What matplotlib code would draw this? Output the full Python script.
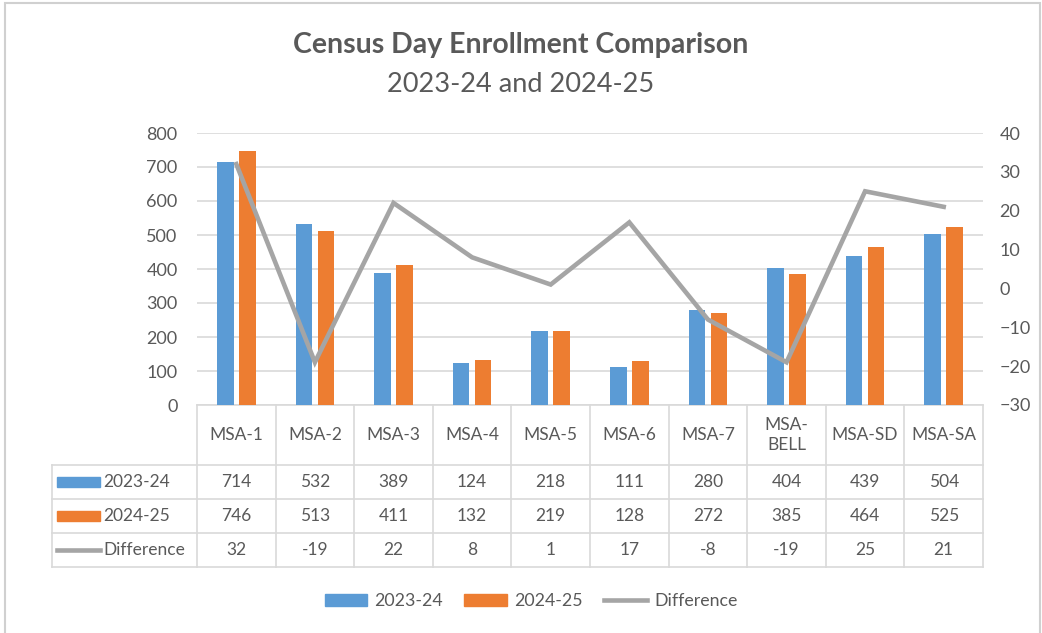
import matplotlib.pyplot as plt
import matplotlib.transforms as mtransforms
from matplotlib.patches import Rectangle
from matplotlib.lines import Line2D
import numpy as np

plt.rcParams['font.family'] = ['Lato', 'DejaVu Sans']

sites = ['MSA-1', 'MSA-2', 'MSA-3', 'MSA-4', 'MSA-5', 'MSA-6', 'MSA-7', 'MSA-\nBELL', 'MSA-SD', 'MSA-SA']
enr_2324 = [714, 532, 389, 124, 218, 111, 280, 404, 439, 504]
enr_2425 = [746, 513, 411, 132, 219, 128, 272, 385, 464, 525]
difference = [32, -19, 22, 8, 1, 17, -8, -19, 25, 21]

blue = '#5B9BD5'
orange = '#ED7D31'
grey = '#A5A5A5'
txt = '#595959'
grid = '#D9D9D9'

W, H = 1042, 633
fig = plt.figure(figsize=(W / 100, H / 100), dpi=100)

def fy(py):
    return 1 - py / H

def fx(px):
    return px / W

# outer chart border
fig.patches.append(Rectangle((fx(5), fy(640)), fx(1040) - fx(5), fy(3) - fy(640),
                             transform=fig.transFigure, fill=False, ec='#D0D0D0', lw=1.5))

ax = fig.add_axes([fx(197), fy(405), fx(983) - fx(197), fy(133) - fy(405)])
x = np.arange(len(sites))
ax.bar(x - 0.14, enr_2324, width=0.21, color=blue, zorder=3)
ax.bar(x + 0.14, enr_2425, width=0.21, color=orange, zorder=3)
ax.set_xlim(-0.5, len(sites) - 0.5)
ax.set_ylim(0, 800)
ax.set_yticks(range(0, 801, 100))
ax.yaxis.grid(True, color=grid, lw=1.2, zorder=0)
for s in ['top', 'right', 'left']:
    ax.spines[s].set_visible(False)
ax.spines['bottom'].set_color(grid)
ax.spines['bottom'].set_linewidth(1.2)
ax.set_xticks([])
ax.tick_params(axis='y', length=0, labelsize=13, labelcolor=txt, pad=14)

ax2 = ax.twinx()
ax2.plot(x, difference, color=grey, lw=3.3, zorder=4, solid_joinstyle='miter')
ax2.set_ylim(-30, 40)
ax2.set_yticks(range(-30, 41, 10))
for s in ax2.spines.values():
    s.set_visible(False)
ax2.tick_params(axis='y', length=0, labelsize=13, labelcolor=txt, pad=12)

# titles
fig.text(0.5, fy(45), 'Census Day Enrollment Comparison', ha='center', va='center',
         fontsize=20.5, fontweight='bold', color=txt)
fig.text(0.5, fy(85), '2023-24 and 2024-25', ha='center', va='center',
         fontsize=19.5, color=txt)

# data table
tr = mtransforms.blended_transform_factory(ax.transData, fig.transFigure)
row_edges = [405, 465, 499, 533, 567]
left_px = 52
lc = '#D9D9D9'
for i in range(len(sites) + 1):
    fig.add_artist(Line2D([i - 0.5, i - 0.5], [fy(405), fy(567)], transform=tr, color=lc, lw=1.2))
fig.add_artist(Line2D([fx(left_px), fx(left_px)], [fy(465), fy(567)], transform=fig.transFigure, color=lc, lw=1.2))
for ry in row_edges[1:]:
    fig.add_artist(Line2D([fx(left_px), fx(983)], [fy(ry), fy(ry)], transform=fig.transFigure, color=lc, lw=1.2))

for i, s in enumerate(sites):
    fig.text(i, fy(435), s, transform=tr, ha='center', va='center', fontsize=12.5, color=txt,
             linespacing=1.3)
rows = [enr_2324, enr_2425, difference]
for r, vals in enumerate(rows):
    yc = fy((row_edges[r + 1] + row_edges[r + 2]) / 2)
    for i, v in enumerate(vals):
        fig.text(i, yc, str(v), transform=tr, ha='center', va='center', fontsize=12.5, color=txt)

labels = ['2023-24', '2024-25', 'Difference']
for r, lab in enumerate(labels):
    ycp = (row_edges[r + 1] + row_edges[r + 2]) / 2
    if r < 2:
        col = blue if r == 0 else orange
        fig.patches.append(Rectangle((fx(57), fy(ycp + 5)), fx(100) - fx(57), fy(ycp - 5) - fy(ycp + 5),
                                     transform=fig.transFigure, color=col))
    else:
        fig.add_artist(Line2D([fx(57), fx(100)], [fy(ycp), fy(ycp)], transform=fig.transFigure,
                              color=grey, lw=3.3))
    fig.text(fx(103), fy(ycp), lab, ha='left', va='center', fontsize=12.5, color=txt)

# legend
handles = [Rectangle((0, 0), 1, 1, color=blue), Rectangle((0, 0), 1, 1, color=orange),
           Line2D([0], [0], color=grey, lw=3.3)]
leg = fig.legend(handles, labels, loc='center', bbox_to_anchor=(fx(531), fy(601)), ncol=3,
                 frameon=False, fontsize=12.8, handlelength=2.4, handleheight=0.65,
                 columnspacing=1.2, handletextpad=0.4)
for t in leg.get_texts():
    t.set_color(txt)

fig.savefig('out.png', dpi=100, facecolor='white')
